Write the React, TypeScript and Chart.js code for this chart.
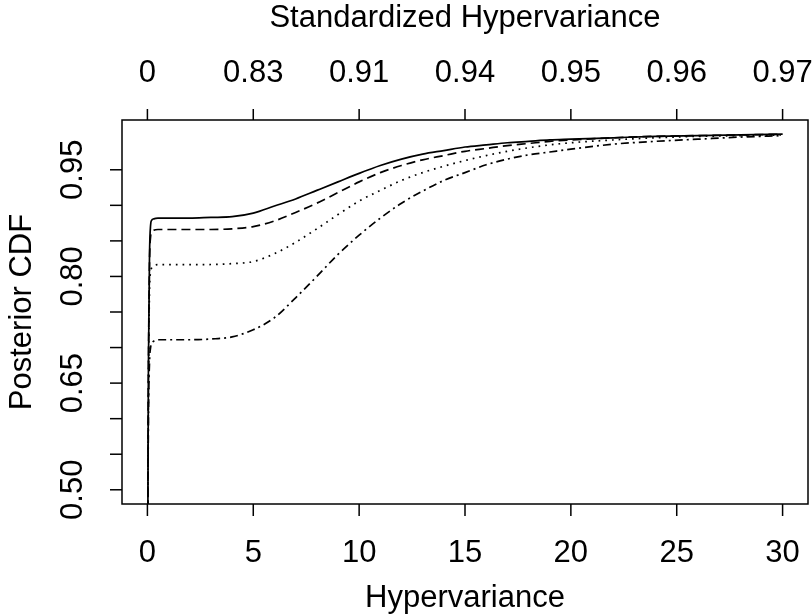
import React, { useEffect, useRef } from "react";
import { Chart, registerables } from "chart.js";

Chart.register(...registerables);

// Hypervariance grid (x values)
const hyperX = [0, 0.02, 0.05, 0.1, 0.15, 0.2, 0.3, 0.5, 1, 2, 3, 4, 5, 6, 7, 8, 9, 10, 11, 12, 13, 14, 15, 16, 17, 18, 19, 20, 22, 24, 26, 28, 30];

// Posterior CDF curves
const cdfSolid = [0, 0.45, 0.68, 0.83, 0.872, 0.879, 0.881, 0.882, 0.882, 0.882, 0.883, 0.884, 0.889, 0.899, 0.909, 0.921, 0.933, 0.945, 0.956, 0.965, 0.972, 0.977, 0.982, 0.985, 0.988, 0.99, 0.992, 0.993, 0.995, 0.997, 0.998, 0.999, 1.0];
const cdfDashed = [0, 0.45, 0.67, 0.82, 0.856, 0.862, 0.865, 0.866, 0.866, 0.866, 0.866, 0.867, 0.87, 0.878, 0.89, 0.903, 0.918, 0.933, 0.946, 0.956, 0.964, 0.97, 0.976, 0.98, 0.984, 0.987, 0.99, 0.992, 0.995, 0.997, 0.998, 0.999, 1.0];
const cdfDotted = [0, 0.44, 0.64, 0.78, 0.806, 0.812, 0.815, 0.8165, 0.8165, 0.8165, 0.8168, 0.818, 0.821, 0.832, 0.848, 0.867, 0.887, 0.906, 0.921, 0.935, 0.946, 0.955, 0.963, 0.97, 0.976, 0.981, 0.985, 0.988, 0.992, 0.995, 0.997, 0.998, 0.999];
const cdfDashDot = [0, 0.42, 0.6, 0.68, 0.7, 0.706, 0.709, 0.711, 0.711, 0.711, 0.712, 0.715, 0.725, 0.742, 0.77, 0.8, 0.831, 0.858, 0.882, 0.903, 0.92, 0.935, 0.946, 0.957, 0.965, 0.971, 0.975, 0.979, 0.986, 0.99, 0.993, 0.996, 0.998];

// Axes
const xTicks = [0, 5, 10, 15, 20, 25, 30];
const xTickLabels = ["0", "5", "10", "15", "20", "25", "30"];
const topTickLabels = ["0", "0.83", "0.91", "0.94", "0.95", "0.96", "0.97"];
const yTicks = [0.5, 0.55, 0.6, 0.65, 0.7, 0.75, 0.8, 0.85, 0.9, 0.95];
const yLabelValues = [0.5, 0.65, 0.8, 0.95];
const yLabelTexts = ["0.50", "0.65", "0.80", "0.95"];

const xTitle = "Hypervariance";
const topTitle = "Standardized Hypervariance";
const yTitle = "Posterior CDF";

const FONT = '31px "Liberation Sans", Arial, sans-serif';

const rAxesPlugin = {
  id: "rAxes",
  afterDatasetsDraw(chart: any) {
    const { ctx, chartArea } = chart;
    const xs = chart.scales.x;
    const ys = chart.scales.y;
    const { left, right, top, bottom } = chartArea;
    ctx.save();
    ctx.strokeStyle = "#000";
    ctx.fillStyle = "#000";
    ctx.lineWidth = 1.5;
    ctx.setLineDash([]);
    // box
    ctx.strokeRect(left, top, right - left, bottom - top);
    ctx.font = FONT;
    ctx.textAlign = "center";
    ctx.textBaseline = "middle";
    // bottom & top axes
    xTicks.forEach((v, i) => {
      const px = xs.getPixelForValue(v);
      ctx.beginPath();
      ctx.moveTo(px, bottom);
      ctx.lineTo(px, bottom + 12);
      ctx.moveTo(px, top);
      ctx.lineTo(px, top - 11);
      ctx.stroke();
      ctx.fillText(xTickLabels[i], px, bottom + 49);
      ctx.fillText(topTickLabels[i], px, top - 47);
    });
    const cx = (left + right) / 2;
    ctx.fillText(xTitle, cx, bottom + 94);
    ctx.fillText(topTitle, cx, top - 102);
    // left axis
    yTicks.forEach((v) => {
      const py = ys.getPixelForValue(v);
      ctx.beginPath();
      ctx.moveTo(left, py);
      ctx.lineTo(left - 12, py);
      ctx.stroke();
    });
    yLabelValues.forEach((v, i) => {
      const py = ys.getPixelForValue(v);
      ctx.save();
      ctx.translate(left - 49, py);
      ctx.rotate(-Math.PI / 2);
      ctx.fillText(yLabelTexts[i], 0, 0);
      ctx.restore();
    });
    ctx.save();
    ctx.translate(left - 100, (top + bottom) / 2);
    ctx.rotate(-Math.PI / 2);
    ctx.fillText(yTitle, 0, 0);
    ctx.restore();
    ctx.restore();
  },
};

function makeSeries(ys: number[]) {
  return hyperX.map((x, i) => ({ x, y: ys[i] }));
}

export default function App() {
  const ref = useRef<HTMLCanvasElement | null>(null);
  useEffect(() => {
    if (!ref.current) return;
    const base = {
      borderColor: "#000",
      borderWidth: 1.7,
      pointRadius: 0,
      fill: false,
      cubicInterpolationMode: "monotone" as const,
      borderCapStyle: "butt" as const,
    };
    const chart = new Chart(ref.current, {
      type: "line",
      data: {
        datasets: [
          { ...base, label: "solid", data: makeSeries(cdfSolid), borderDash: [] },
          { ...base, label: "dashed", data: makeSeries(cdfDashed), borderDash: [9, 5] },
          { ...base, label: "dotted", data: makeSeries(cdfDotted), borderDash: [1.7, 5] },
          { ...base, label: "dashdot", data: makeSeries(cdfDashDot), borderDash: [2, 4, 8, 4] },
        ],
      },
      options: {
        animation: false,
        responsive: false,
        devicePixelRatio: 1,
        layout: { padding: { left: 122, right: 4, top: 120, bottom: 111 } },
        plugins: { legend: { display: false }, tooltip: { enabled: false } },
        scales: {
          x: { type: "linear", min: -1.2, max: 31.2, display: false },
          y: { type: "linear", min: 0.48, max: 1.02, display: false },
        },
      },
      plugins: [rAxesPlugin],
    });
    return () => chart.destroy();
  }, []);
  return (
    <div style={{ position: "fixed", left: 0, top: 0, width: 812, height: 615, background: "#fff" }}>
      <canvas ref={ref} width={812} height={615} />
    </div>
  );
}
